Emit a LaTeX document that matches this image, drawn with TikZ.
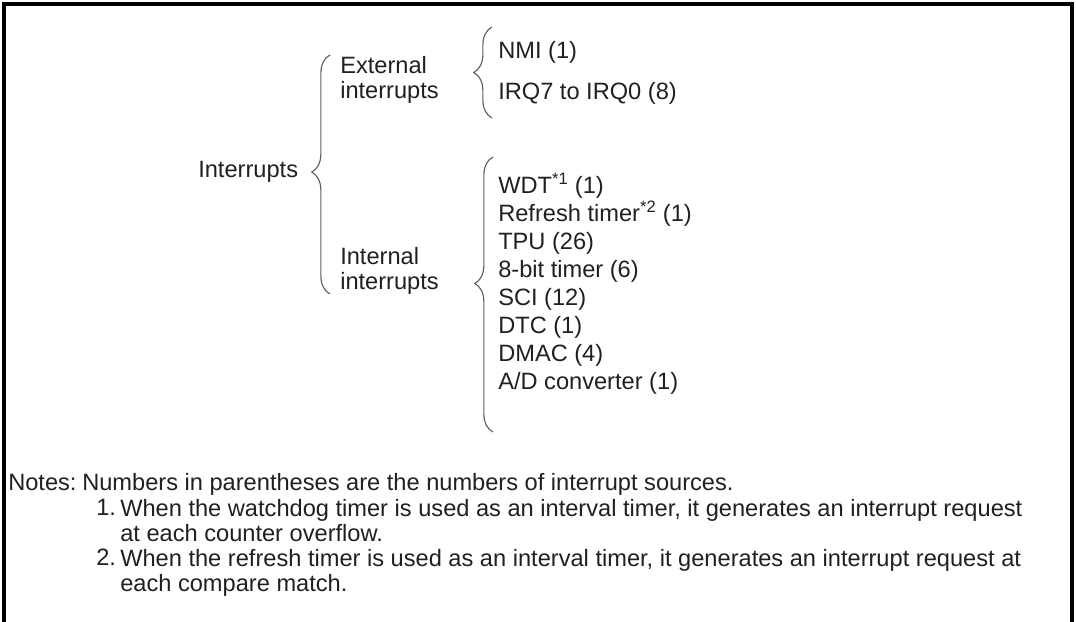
\documentclass[tikz,border=0pt]{standalone}
\usepackage{fontspec}
\setmainfont{Liberation Sans}
\usepackage{xcolor}
\usetikzlibrary{positioning,decorations.pathreplacing}
\definecolor{InkDark}{RGB}{35,31,32}
\definecolor{BraceGray}{RGB}{95,95,95}

\begin{document}
\begin{tikzpicture}[
  x=0.025cm, y=-0.025cm,
  txt/.style={inner sep=0pt, anchor=west, align=left, text=InkDark, font=\fontsize{16.8}{17.6}\selectfont},
  listtxt/.style={txt, font=\fontsize{16.8}{19.9}\selectfont},
  curly/.style={draw=BraceGray, line width=0.8pt, decorate, decoration={brace, amplitude=13pt, aspect=#1}},
  frame/.style={draw=black, line width=2.2pt}
]
  \useasboundingbox (0,0) rectangle (1076,622);

  % Frame (open at the bottom)
  \draw[frame] (4,622) -- (4,4) -- (1072,4) -- (1072,622);

  % Nodes
  \node[txt] (irq) at (198,172) {Interrupts};
  \node[txt] (ext) at (340,80) {External\\interrupts};
  \node[txt] (int) at (340,271) {Internal\\interrupts};
  \node[txt] (nmi) at (498,52) {NMI (1)};
  \node[txt] (irqn) at (498,93) {IRQ7 to IRQ0 (8)};
  \node[listtxt] (srcs) at (498,284) {WDT\textsuperscript{*1} (1)\\
    Refresh timer\textsuperscript{*2} (1)\\
    TPU (26)\\
    8-bit timer (6)\\
    SCI (12)\\
    DTC (1)\\
    DMAC (4)\\
    A/D converter (1)};

  % Brace ends
  \coordinate (bigTop) at (330,55);
  \coordinate (bigBot) at (330,294);
  \coordinate (extTop) at (492,27);
  \coordinate (extBot) at (492,118);
  \coordinate (intTop) at (493,157);
  \coordinate (intBot) at (493,432);

  % Braces
  \draw[curly=0.51] (bigBot) -- (bigTop);
  \draw[curly=0.5] (extBot) -- (extTop);
  \draw[curly=0.54] (intBot) -- (intTop);

  % Notes
  \node[txt, anchor=base west] (nt) at (8,490) {Notes:};
  \node[txt, anchor=base west] (nt0) at (82,490) {Numbers in parentheses are the numbers of interrupt sources.};
  \node[txt, anchor=north west] (nt1) at (120,499) {When the watchdog timer is used as an interval timer, it generates an interrupt request\\at each counter overflow.};
  \node[txt, anchor=north west] (n1) at (96,499) {1.};
  \node[txt, anchor=north west] (nt2) at (120,549) {When the refresh timer is used as an interval timer, it generates an interrupt request at\\each compare match.};
  \node[txt, anchor=north west] (n2) at (96,549) {2.};
\end{tikzpicture}
\end{document}
